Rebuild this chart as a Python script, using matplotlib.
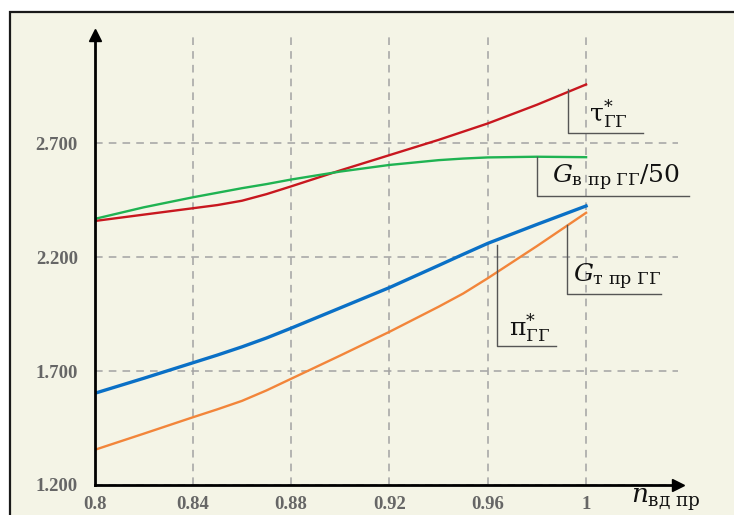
import matplotlib
matplotlib.use("Agg")
import matplotlib.pyplot as plt
from matplotlib.patches import Rectangle

plt.rcParams['mathtext.fontset'] = 'dejavuserif'

# Relative spool speed (x axis)
n_vd = [0.80, 0.82, 0.84, 0.85, 0.86, 0.87, 0.88, 0.90, 0.92, 0.94, 0.95, 0.96, 0.98, 1.00]

# Gas-generator characteristics
tau_gg = [2.358, 2.386, 2.414, 2.428, 2.447, 2.476, 2.510, 2.580, 2.647, 2.714, 2.750, 2.786, 2.868, 2.957]
g_air_gg = [2.367, 2.418, 2.462, 2.482, 2.502, 2.520, 2.540, 2.575, 2.604, 2.625, 2.632, 2.637, 2.640, 2.638]
g_fuel_gg = [1.602, 1.668, 1.736, 1.770, 1.806, 1.845, 1.888, 1.977, 2.066, 2.163, 2.212, 2.260, 2.343, 2.424]
pi_gg = [1.354, 1.425, 1.497, 1.532, 1.569, 1.615, 1.666, 1.768, 1.872, 1.982, 2.040, 2.107, 2.248, 2.394]

x_ticks = [0.80, 0.84, 0.88, 0.92, 0.96, 1.00]
x_tick_labels = ["0.8", "0.84", "0.88", "0.92", "0.96", "1"]
y_ticks = [1.2, 1.7, 2.2, 2.7]
y_tick_labels = ["1.200", "1.700", "2.200", "2.700"]

W, H = 734, 515
fig = plt.figure(figsize=(W / 100, H / 100), dpi=100, facecolor="white")

# Beige panel with a dark frame (runs off the right and bottom edges)
panel = Rectangle((10 / W, -0.1), 1.1, 1.1 - 12 / H, transform=fig.transFigure,
                  facecolor="#f4f4e6", edgecolor="#1a1a1a", linewidth=1.6, zorder=-10)
fig.patches.append(panel)

ax = fig.add_axes([94.5 / W, 30 / H, (678 - 94.5) / W, (485 - 35) / H])
ax.set_zorder(2)
ax.set_facecolor("none")
ax.set_xlim(0.8, 1.0374)
ax.set_ylim(1.2, 3.174)

for s in ("top", "right"):
    ax.spines[s].set_visible(False)
for s in ("left", "bottom"):
    ax.spines[s].set_linewidth(2.0)
    ax.spines[s].set_color("black")
    ax.spines[s].set_zorder(5)

# Axis arrowheads
ax.plot(1, 0, ">", color="black", markersize=8, transform=ax.transAxes, clip_on=False, zorder=6)
ax.plot(0, 1, "^", color="black", markersize=8, transform=ax.transAxes, clip_on=False, zorder=6)

ax.set_xticks(x_ticks)
ax.set_xticklabels(x_tick_labels)
ax.set_yticks(y_ticks)
ax.set_yticklabels(y_tick_labels)
ax.tick_params(length=0)
ax.tick_params(axis="x", pad=8)
ax.tick_params(axis="y", pad=12)
for lbl in ax.get_xticklabels() + ax.get_yticklabels():
    lbl.set_fontfamily("Liberation Serif")
    lbl.set_fontweight("bold")
    lbl.set_fontsize(13.5)
    lbl.set_color("#666666")

ax.grid(True, color="#a3a3a3", linestyle=(0, (5, 4)), linewidth=1.1)
ax.set_axisbelow(True)

ax.plot(n_vd, tau_gg, color="#c8171f", lw=1.7, zorder=3)
ax.plot(n_vd, g_air_gg, color="#1fb352", lw=1.7, zorder=3)
ax.plot(n_vd, g_fuel_gg, color="#0a70c6", lw=2.4, zorder=3)
ax.plot(n_vd, pi_gg, color="#f2853a", lw=1.7, zorder=3)

# Leader lines for curve labels
lead = dict(color="#555555", lw=1.0, clip_on=False, zorder=4)
ax.plot([0.9928, 0.9928, 1.0232], [2.935, 2.745, 2.745], **lead)
ax.plot([0.9802, 0.9802, 1.0419], [2.639, 2.4675, 2.4675], **lead)
ax.plot([0.9924, 0.9924, 1.0304], [2.340, 2.036, 2.036], **lead)
ax.plot([0.9637, 0.9637, 0.9878], [2.253, 1.810, 1.810], **lead)

lab = dict(color="#111111", clip_on=False, zorder=6, va="baseline", ha="left")
ax.text(1.0010, 2.790, r"$\mathrm{τ}^{*}_{\mathrm{ГГ}}$", fontsize=18, **lab)
ax.text(0.9860, 2.525, r"$G_{\mathrm{в\ пр\ ГГ}}/50$", fontsize=18, **lab)
ax.text(0.9945, 2.090, r"$G_{\mathrm{т\ пр\ ГГ}}$", fontsize=18, **lab)
ax.text(0.9685, 1.855, r"$\mathrm{π}^{*}_{\mathrm{ГГ}}$", fontsize=18, **lab)

# x-axis name next to the last tick label
fig.text(631 / W, 1 - 503 / H, r"$n_{\mathrm{вд\ пр}}$", fontsize=19,
         color="#111111", ha="left", va="baseline")

fig.savefig("out.png", dpi=100, facecolor="white")
